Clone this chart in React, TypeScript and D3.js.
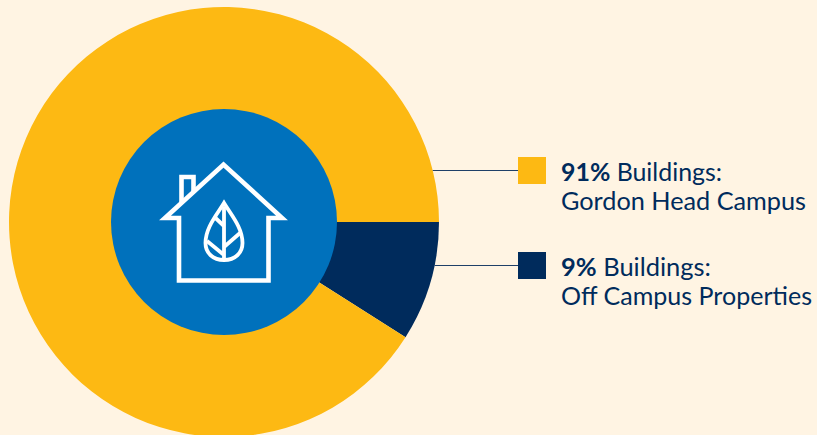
import React from 'react';
import * as d3 from 'd3';

const categories = ['Off Campus Properties', 'Gordon Head Campus'];
const values = [9, 91];
const colours = ['#002b5c', '#fdb913'];
const legendPercents = ['9%', '91%'];
const legendHead = 'Buildings:';

const width = 817;
const height = 435;
const cx = 224;
const cy = 222;
const radius = 215;
const innerRadius = 113;
const navy = '#002b5c';
const font = 'Lato, "Open Sans", sans-serif';

// legend rows, same order as categories
const legendY = [252, 157];
const leaderY = [265.5, 170.5];
const headLength = [150, 161];
const nameLength = [251, 245];

const App: React.FC = () => {
  const pie = d3.pie<number>()
    .sort(null)
    .startAngle(Math.PI / 2)
    .endAngle(Math.PI / 2 + Math.PI * 2);
  const arc = d3.arc<d3.PieArcDatum<number>>().innerRadius(0).outerRadius(radius);
  const arcs = pie(values);

  return (
    <svg
      width={width}
      height={height}
      viewBox={`0 0 ${width} ${height}`}
      style={{ position: 'absolute', left: 0, top: 0, fontFamily: font }}
    >
      <rect width={width} height={height} fill="#fff4e3" />
      <g transform={`translate(${cx},${cy})`}>
        {arcs.map((d, i) => (
          <path key={categories[i]} d={arc(d) ?? ''} fill={colours[i]} />
        ))}
        <circle r={innerRadius} fill="#0071bc" />
      </g>

      {/* house + leaf icon */}
      <g fill="none" stroke="#fff" strokeWidth={4.6} strokeMiterlimit={8}>
        <path d="M179,218 H165 L223.5,164.5 L282,218 H268.5 V280.5 H179 Z" />
        <path d="M181.5,202 V177 H193.5 V191" />
      </g>
      <g fill="none" stroke="#fff" strokeWidth={3.8} strokeMiterlimit={8}>
        <path d="M224,203 C216,216 205.5,228 205.5,243 C205.5,253 213,260 224,260 C235,260 242.5,253 242.5,243 C242.5,228 232,216 224,203 Z" />
        <path d="M224,207 V260 M224,247 L240,233 M224,255 L207,241 M224,226 L215.5,218" />
      </g>

      {categories.map((name, i) => {
        const dy = leaderY[i] - cy;
        const edge = cx + Math.sqrt(radius * radius - dy * dy);
        const top = legendY[i];
        return (
          <g key={name}>
            <line x1={edge} x2={518} y1={leaderY[i]} y2={leaderY[i]} stroke="#1f4068" strokeWidth={1} />
            <rect x={518} y={top} width={28} height={27} fill={colours[i]} />
            <text x={561} y={top + 23.5} fill={navy} fontSize={25.5} textLength={headLength[i]} lengthAdjust="spacingAndGlyphs">
              <tspan fontWeight={700}>{legendPercents[i]}</tspan> {legendHead}
            </text>
            <text x={561} y={top + 53} fill={navy} fontSize={25.5} textLength={nameLength[i]} lengthAdjust="spacingAndGlyphs">
              {name}
            </text>
          </g>
        );
      })}
    </svg>
  );
};

export default App;
